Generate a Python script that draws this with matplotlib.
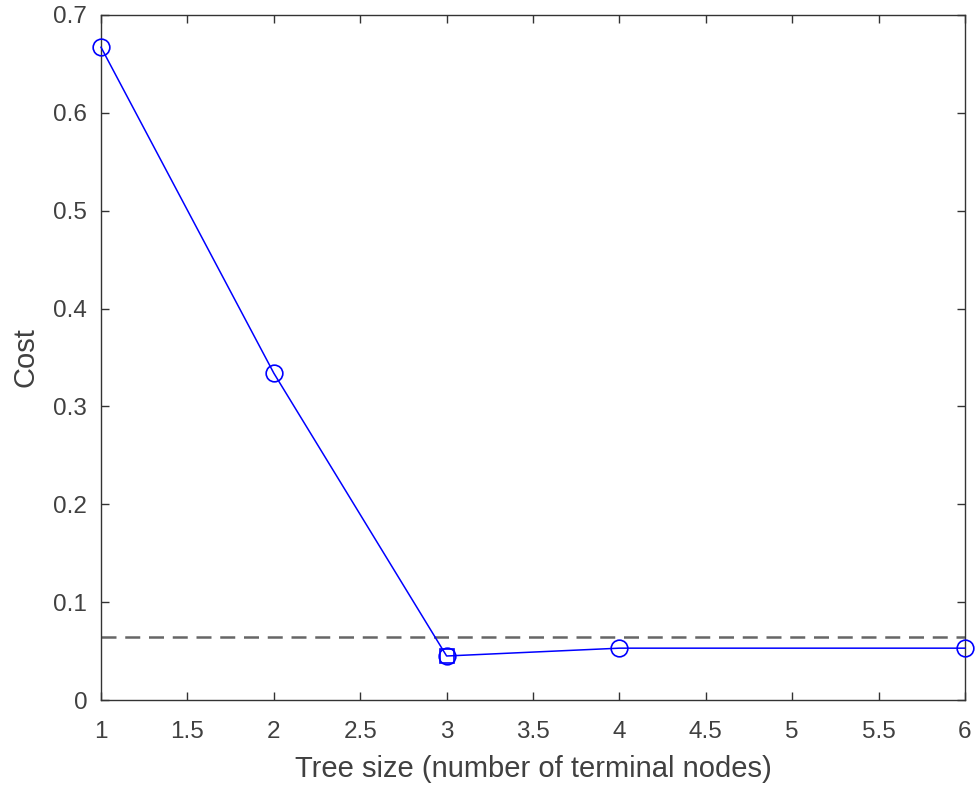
import matplotlib

matplotlib.use("Agg")
import matplotlib.pyplot as plt

# ── 数据 ──────────────────────────────────────────────────────────────
tree_size = [1, 2, 3, 4, 6]
cost = [0.667, 0.334, 0.045, 0.053, 0.053]
best_size = 3
best_cost = 0.045
cutoff = 0.064

xticks = [1, 1.5, 2, 2.5, 3, 3.5, 4, 4.5, 5, 5.5, 6]
xtick_labels = ["1", "1.5", "2", "2.5", "3", "3.5", "4", "4.5", "5", "5.5", "6"]
yticks = [0, 0.1, 0.2, 0.3, 0.4, 0.5, 0.6, 0.7]
ytick_labels = ["0", "0.1", "0.2", "0.3", "0.4", "0.5", "0.6", "0.7"]

plt.rcParams["font.family"] = ["Liberation Sans", "DejaVu Sans"]

fig = plt.figure(figsize=(9.78, 7.87), dpi=100)
ax = fig.add_axes([0.1033, 0.1105, 0.8834, 0.8705])

axis_color = "#333333"
text_color = "#404040"

# 截断线
ax.axhline(cutoff, color="#666666", linestyle=(0, (6, 3.5)), linewidth=1.8, zorder=1)

# 成本曲线
ax.plot(tree_size, cost, color="blue", linewidth=1.1, marker="o",
        markersize=12, markerfacecolor="none", markeredgewidth=1.2,
        clip_on=False, zorder=3)
ax.plot([best_size], [best_cost], color="blue", marker="s", markersize=10,
        markerfacecolor="none", markeredgewidth=1.2, linestyle="none",
        clip_on=False, zorder=3)

ax.set_xlim(1, 6)
ax.set_ylim(0, 0.7)
ax.set_xticks(xticks)
ax.set_xticklabels(xtick_labels)
ax.set_yticks(yticks)
ax.set_yticklabels(ytick_labels)

ax.tick_params(direction="in", top=True, right=True, length=6, width=1.0,
               colors=axis_color, labelcolor=text_color, labelsize=17.5)
ax.tick_params(axis="x", pad=15)
ax.tick_params(axis="y", pad=10)
for spine in ax.spines.values():
    spine.set_color(axis_color)
    spine.set_linewidth(1.0)

ax.set_xlabel("Tree size (number of terminal nodes)", fontsize=21,
              color=text_color, labelpad=9)
ax.set_ylabel("Cost", fontsize=21, color=text_color, labelpad=10)

fig.savefig("out.png", dpi=100)
